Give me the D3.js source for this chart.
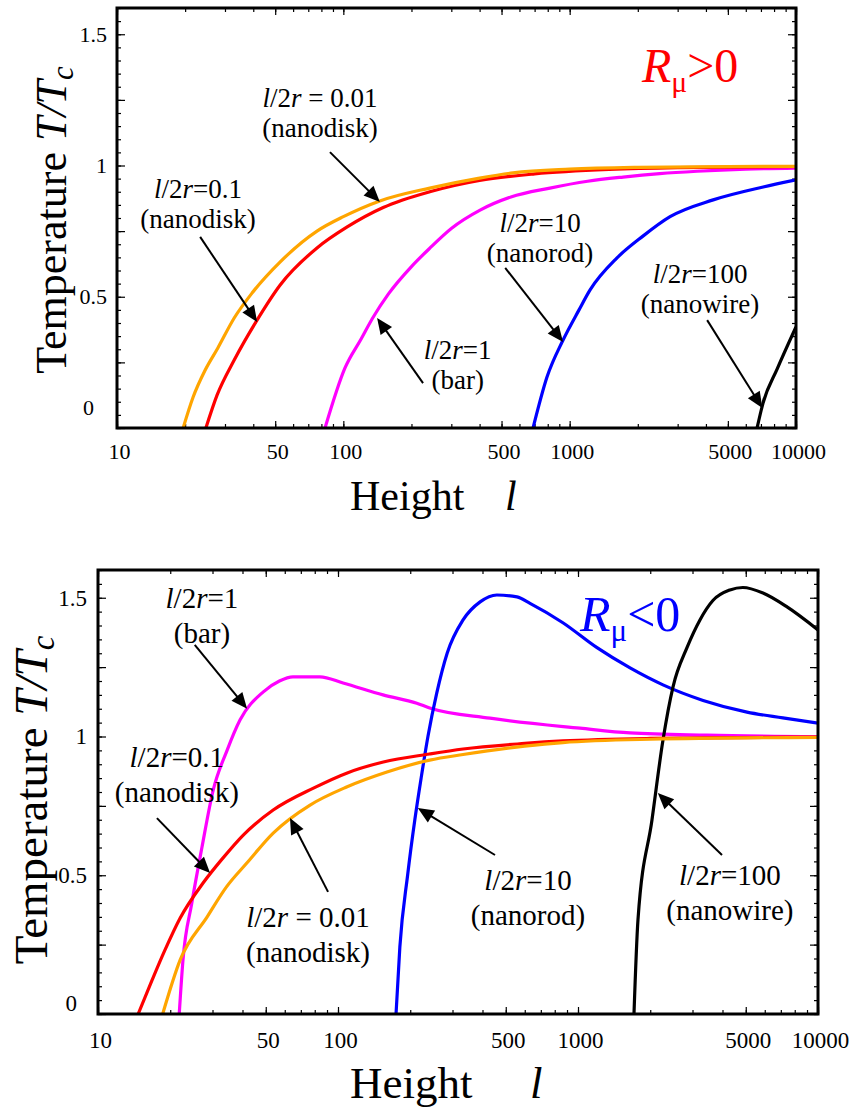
<!DOCTYPE html>
<html><head><meta charset="utf-8">
<script src="https://cdn.jsdelivr.net/npm/d3@7"></script>
<style>
body{margin:0;background:#fff}
svg text{font-family:"Liberation Serif","Times New Roman",serif !important;}
</style>
</head><body>
<svg id="c" width="858" height="1110" style="font-family:'Liberation Serif','Times New Roman',serif"></svg>
<script>
// ---------- data ----------
const heightTicks = [10, 50, 100, 500, 1000, 5000, 10000];
const tempTicks = [0, 0.5, 1, 1.5];
const ratios = ["0.01", "0.1", "1", "10", "100"];
const colors = {"0.01": "#ffa500", "0.1": "#ff0000", "1": "#ff00ff", "10": "#0000ff", "100": "#000000"};

// R_mu > 0 : [height l, T/Tc]
const pos_001 = [[19.6,0],[21.7,0.118],[24.5,0.22],[27.9,0.305],[33,0.42],[39.5,0.514],[52.5,0.632],[76.5,0.75],[100,0.805],[145,0.865],[241,0.914],[400,0.952],[562,0.972],[1000,0.986],[2000,0.993],[5000,0.996],[10000,0.997]];
const pos_01  = [[24.7,0],[27.7,0.126],[33,0.26],[41.5,0.41],[52.6,0.545],[76.5,0.686],[104,0.766],[150,0.84],[241,0.9],[400,0.943],[700,0.968],[1500,0.985],[3000,0.992],[10000,0.996]];
const pos_1   = [[83,0],[101.6,0.228],[120,0.34],[135,0.42],[158,0.51],[200,0.615],[241,0.685],[300,0.76],[402,0.83],[550,0.88],[818,0.914],[1200,0.94],[1722,0.956],[2500,0.969],[3656,0.978],[6000,0.986],[10000,0.99]];
const pos_10  = [[689,0],[794,0.194],[935,0.335],[1100,0.45],[1231,0.526],[1619,0.648],[2100,0.73],[2777,0.805],[4306,0.869],[7160,0.918],[10000,0.945]];
const pos_100 = [[6730,0],[7150,0.095],[8260,0.225],[10000,0.385]];

// R_mu < 0
const neg_001 = [[18.6,0],[22,0.195],[28.5,0.35],[34.3,0.458],[41.7,0.544],[53.7,0.652],[76.5,0.753],[108.6,0.818],[160,0.872],[241,0.915],[332,0.935],[600,0.965],[865,0.978],[2000,0.99],[10000,0.997]];
const neg_01  = [[14.7,0],[16.8,0.122],[19,0.23],[22,0.346],[27.4,0.472],[33,0.56],[40.3,0.645],[53.7,0.735],[79,0.814],[108.6,0.868],[154.5,0.908],[241,0.937],[332,0.955],[600,0.975],[865,0.984],[2000,0.993],[10000,0.998]];
const neg_1   = [[21.8,0],[22.6,0.195],[24.6,0.4],[27.1,0.6],[30.2,0.807],[34.5,0.95],[39.1,1.06],[48.7,1.16],[57,1.2],[64.9,1.215],[84.1,1.215],[105,1.193],[154,1.15],[213,1.12],[241,1.103],[430,1.066],[1019,1.03],[1648,1.013],[3444,1.005],[10000,1.0]];
const neg_10  = [[174.5,0],[181,0.241],[195,0.5],[209,0.7],[222,0.85],[237,1.0],[258,1.157],[285,1.3],[332,1.42],[391,1.485],[459,1.51],[557,1.503],[631,1.48],[865,1.41],[1200,1.32],[1648,1.247],[2260,1.186],[3320,1.13],[5060,1.088],[7140,1.067],[10000,1.048]];
const neg_100 = [[1711,0],[1778,0.34],[2034,0.7],[2260,0.987],[2490,1.18],[2845,1.32],[3222,1.42],[3648,1.49],[4295,1.528],[4864,1.537],[5900,1.517],[7430,1.467],[10000,1.384]];

const posSeries = {"100": pos_100, "10": pos_10, "1": pos_1, "0.1": pos_01, "0.01": pos_001};
const negSeries = {"1": neg_1, "0.1": neg_01, "0.01": neg_001, "10": neg_10, "100": neg_100};

// ---------- drawing ----------
const FONT = "'Liberation Serif','Times New Roman',serif";
const svg = d3.select("#c");
const defs = svg.append("defs");

function label(r){
  const segs = [{t:"l", i:true},{t:"/2"},{t:"r", i:true}];
  segs.push({t: r === "0.01" ? "\u00a0=\u00a00.01" : "=" + r});
  return segs;
}
const kind = {"0.01":"(nanodisk)","0.1":"(nanodisk)","1":"(bar)","10":"(nanorod)","100":"(nanowire)"};

function richText(g, x, y, segs, size, anchor, color){
  const t = g.append("text").attr("x", x).attr("y", y).attr("font-size", size)
    .attr("text-anchor", anchor).attr("fill", color || "#000").style("font-family", FONT);
  segs.forEach(s => {
    const ts = t.append("tspan").text(s.t).style("font-family", FONT);
    if (s.i) ts.attr("font-style", "italic");
    if (s.dy) ts.attr("dy", s.dy);
    if (s.fs) ts.attr("font-size", s.fs);
  });
  return t;
}

function arrow(g, x1, y1, x2, y2){
  const L = 16, W = 7;
  const dx = x2 - x1, dy = y2 - y1, len = Math.hypot(dx, dy);
  const ux = dx / len, uy = dy / len;
  const bx = x2 - ux * L, by = y2 - uy * L;
  g.append("line").attr("x1", x1).attr("y1", y1).attr("x2", bx + ux*2).attr("y2", by + uy*2)
    .attr("stroke", "#000").attr("stroke-width", 2);
  g.append("polygon").attr("points",
    [[x2, y2],[bx - uy*W, by + ux*W],[bx + uy*W, by - ux*W]].map(p => p.join(",")).join(" "))
    .attr("fill", "#000");
}

function drawPanel(p){
  const g = svg.append("g");
  const x = d3.scaleLog().domain([10, 10000]).range([p.left, p.right]);
  const y = d3.scaleLinear().domain([0, 1.6]).range([p.bottom, p.top]);

  defs.append("clipPath").attr("id", "clip" + p.id).append("rect")
    .attr("x", p.left).attr("y", p.top).attr("width", p.right - p.left).attr("height", p.bottom - p.top);

  const minorX = x.ticks();
  const minorY = d3.range(0, 1.6001, 0.05);
  const midY = d3.range(0, 1.6001, 0.25);

  function styleAxis(sel){
    sel.attr("font-family", null);
    sel.select(".domain").remove();
    sel.selectAll(".tick line").attr("stroke", "#000").attr("stroke-width", 1.2);
  }
  // bottom
  g.append("g").attr("transform", `translate(0,${p.bottom})`)
    .call(d3.axisBottom(x).tickValues(minorX).tickSize(-4).tickFormat("")).call(styleAxis);
  const xb = g.append("g").attr("transform", `translate(0,${p.bottom})`)
    .call(d3.axisBottom(x).tickValues(heightTicks).tickSize(-7).tickPadding(p.xPad).tickFormat(d3.format("d")))
    .call(styleAxis);
  xb.selectAll(".tick text").attr("font-size", p.tickFont).attr("fill", "#000")
    .style("font-family", FONT).attr("dx", 2);
  // top
  g.append("g").attr("transform", `translate(0,${p.top})`)
    .call(d3.axisTop(x).tickValues(minorX).tickSize(-4).tickFormat("")).call(styleAxis);
  g.append("g").attr("transform", `translate(0,${p.top})`)
    .call(d3.axisTop(x).tickValues(heightTicks).tickSize(-7).tickFormat("")).call(styleAxis);
  // left
  g.append("g").attr("transform", `translate(${p.left},0)`)
    .call(d3.axisLeft(y).tickValues(minorY).tickSize(-4).tickFormat("")).call(styleAxis);
  const yl = g.append("g").attr("transform", `translate(${p.left},0)`)
    .call(d3.axisLeft(y).tickValues(midY).tickSize(-8).tickPadding(p.yPad)
      .tickFormat(d => tempTicks.includes(d) ? d3.format("~g")(d) : ""))
    .call(styleAxis);
  yl.selectAll(".tick text").attr("font-size", p.tickFont).attr("fill", "#000")
    .style("font-family", FONT)
    .attr("transform", d => d === 0 ? `translate(${p.zeroShift[0]},${p.zeroShift[1]})` : null);
  // right
  g.append("g").attr("transform", `translate(${p.right},0)`)
    .call(d3.axisRight(y).tickValues(minorY).tickSize(-4).tickFormat("")).call(styleAxis);
  g.append("g").attr("transform", `translate(${p.right},0)`)
    .call(d3.axisRight(y).tickValues(midY).tickSize(-8).tickFormat("")).call(styleAxis);

  // curves
  const line = d3.line().x(d => x(d[0])).y(d => y(d[1])).curve(d3.curveMonotoneX);
  const cg = g.append("g").attr("clip-path", `url(#clip${p.id})`);
  Object.entries(p.series).forEach(([r, data]) => {
    cg.append("path").datum(data).attr("d", line).attr("fill", "none")
      .attr("stroke", colors[r]).attr("stroke-width", 3.2).attr("stroke-linejoin", "round");
  });

  // frame
  g.append("rect").attr("x", p.left).attr("y", p.top).attr("width", p.right - p.left)
    .attr("height", p.bottom - p.top).attr("fill", "none").attr("stroke", "#000").attr("stroke-width", 3);

  // annotations
  p.notes.forEach(n => {
    const tx = x(n.text[0]), ty = y(n.text[1]);
    richText(g, tx, ty, label(n.r), p.annFont, "middle").attr("dy", "0.35em");
    richText(g, tx, ty + p.lineGap, [{t: kind[n.r]}], p.annFont, "middle").attr("dy", "0.35em");
    arrow(g, x(n.tail[0]), y(n.tail[1]), x(n.tip[0]), y(n.tip[1]));
  });

  // R_mu sign
  richText(g, p.sign.x, p.sign.y, [
    {t:"R", i:true},
    {t:"\u03bc", fs: p.sign.size * 0.62, dy: p.sign.size * 0.2},
    {t:p.sign.text, dy: -p.sign.size * 0.2}
  ], p.sign.size, "start", p.sign.color);

  // axis titles
  richText(g, p.xTitle.x, p.xTitle.y, [{t:"Height"}], p.xTitle.size, "start");
  richText(g, p.xTitle.lx, p.xTitle.y, [{t:"l", i:true}], p.xTitle.size, "start");
  richText(g, 0, 0, [
    {t:"Temperature\u00a0"},
    {t:"T/T", i:true},
    {t:"c", i:true, fs: p.yTitle.size * 0.7, dy: p.yTitle.size * 0.15}
  ], p.yTitle.size, "middle").attr("transform", `translate(${p.yTitle.x},${p.yTitle.y}) rotate(-90)`);
}

drawPanel({
  id: "a", left: 117, right: 796, top: 8, bottom: 428,
  tickFont: 22, xPad: 15, yPad: 10, zeroShift: [-13, -21],
  annFont: 27, lineGap: 30,
  series: posSeries,
  notes: [
    {r: "0.01", text: [78.9, 1.257], tail: [87.3, 1.051], tip: [145, 0.861]},
    {r: "0.1", text: [22.8, 0.914], tail: [23.3, 0.728], tip: [41.6, 0.404]},
    {r: "1", text: [320, 0.3], tail: [225, 0.171], tip: [141, 0.419]},
    {r: "10", text: [740, 0.781], tail: [519, 0.61], tip: [935, 0.328]},
    {r: "100", text: [3767, 0.59], tail: [4050, 0.411], tip: [7100, 0.076]}
  ],
  sign: {x: 642, y: 82, size: 48, color: "#ff0000", text: ">0"},
  xTitle: {x: 350, y: 510, size: 42, lx: 505},
  yTitle: {x: 66, y: 220, size: 44}
});

drawPanel({
  id: "b", left: 98, right: 818, top: 570, bottom: 1014,
  tickFont: 23, xPad: 18, yPad: 11, zeroShift: [-10, -11],
  annFont: 29, lineGap: 35,
  series: negSeries,
  notes: [
    {r: "1", text: [27.1, 1.499], tail: [25.3, 1.33], tip: [41.8, 1.1]},
    {r: "0.1", text: [21.3, 0.926], tail: [17.6, 0.706], tip: [29.3, 0.508]},
    {r: "0.01", text: [75, 0.35], tail: [90.9, 0.44], tip: [63.1, 0.706]},
    {r: "10", text: [619, 0.483], tail: [451, 0.573], tip: [215, 0.742]},
    {r: "100", text: [4295, 0.5], tail: [3981, 0.573], tip: [2150, 0.796]}
  ],
  sign: {x: 580, y: 631, size: 50, color: "#0000ff", text: "<0"},
  xTitle: {x: 350, y: 1098, size: 45, lx: 530},
  yTitle: {x: 47, y: 800, size: 47}
});
</script>
</body></html>
